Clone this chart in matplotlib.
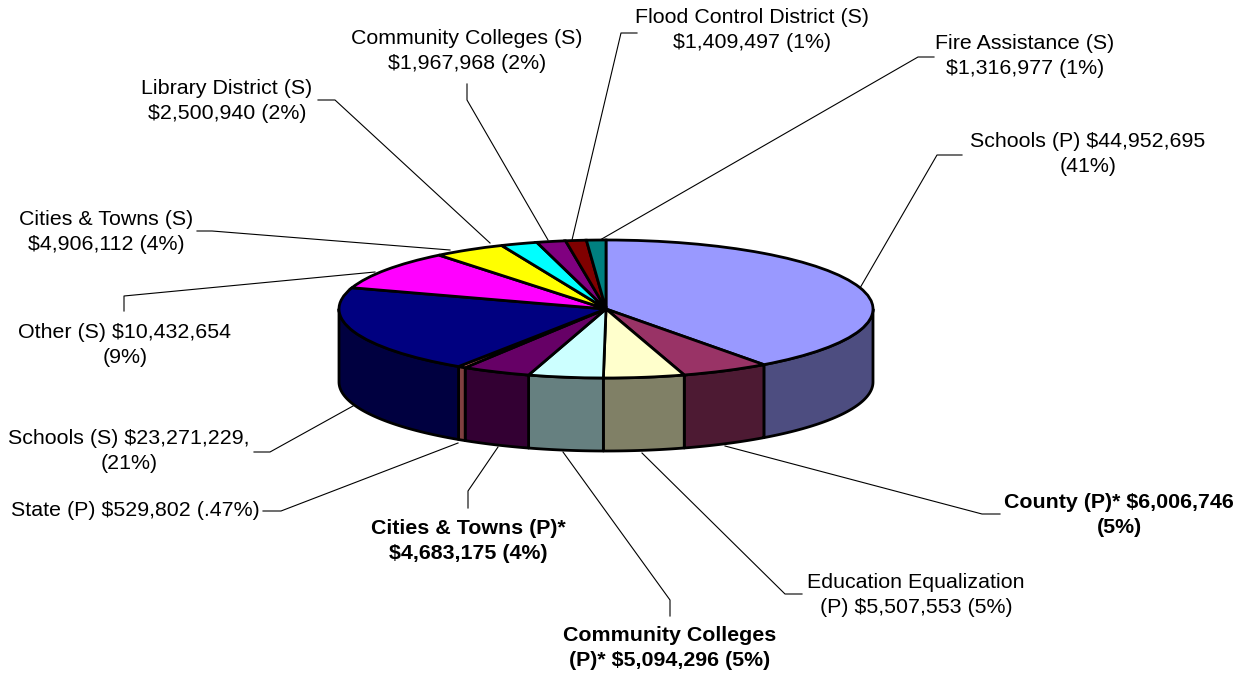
import numpy as np
import matplotlib
matplotlib.use("Agg")
import matplotlib.pyplot as plt
from matplotlib.transforms import Affine2D

plt.rcParams['font.family'] = ['Liberation Sans', 'DejaVu Sans']

# Data, clockwise from 12 o'clock
names = ["Schools (P)", "County (P)", "Education Equalization (P)", "Community Colleges (P)",
         "Cities & Towns (P)", "State (P)", "Schools (S)", "Other (S)", "Cities & Towns (S)",
         "Library District (S)", "Community Colleges (S)", "Flood Control District (S)",
         "Fire Assistance (S)"]
values = [44952695, 6006746, 5507553, 5094296, 4683175, 529802, 23271229, 10432654,
          4906112, 2500940, 1967968, 1409497, 1316977]
top_colors = ["#9999FF", "#993366", "#FFFFCC", "#CCFFFF", "#660066", "#FF8080", "#000080",
              "#FF00FF", "#FFFF00", "#00FFFF", "#800080", "#800000", "#008080"]
side_colors = ["#4D4D80", "#4D1A33", "#808066", "#668080", "#330033", "#804040", "#000040",
               "#800080", "#808000", "#008080", "#400040", "#400000", "#004040"]

# text, x, y, bold
labels = [
    ("Schools (P) $44,952,695\n(41%)", 1088, 154, False),
    ("County (P)* $6,006,746\n(5%)", 1119, 515, True),
    ("Education Equalization\n(P) $5,507,553 (5%)", 916, 595, False),
    ("Community Colleges\n(P)* $5,094,296 (5%)", 670, 648, True),
    ("Cities & Towns (P)*\n$4,683,175 (4%)", 468, 541, True),
    ("State (P) $529,802 (.47%)", 135, 511, False),
    ("Schools (S) $23,271,229,\n(21%)", 129, 451, False),
    ("Other (S) $10,432,654\n(9%)", 125, 345, False),
    ("Cities & Towns (S)\n$4,906,112 (4%)", 106, 232, False),
    ("Library District (S)\n$2,500,940 (2%)", 227, 101, False),
    ("Community Colleges (S)\n$1,967,968 (2%)", 467, 51, False),
    ("Flood Control District (S)\n$1,409,497 (1%)", 752, 30, False),
    ("Fire Assistance (S)\n$1,316,977 (1%)", 1025, 56, False),
]
leaders = [
    ([860, 937, 962], [288, 155, 155]),
    ([725, 982, 1000], [446, 514, 514]),
    ([642, 785, 802], [453, 594, 594]),
    ([563, 670, 670], [452, 600, 616]),
    ([498, 468, 468], [447, 491, 508]),
    ([458, 281, 263], [443, 511, 511]),
    ([353, 270, 254], [406, 452, 452]),
    ([375, 124, 124], [272, 296, 311]),
    ([450, 212, 197], [250, 231, 231]),
    ([490, 335, 318], [243, 100, 100]),
    ([548, 467, 467], [240, 100, 84]),
    ([572, 621, 637], [240, 33, 33]),
    ([600, 918, 934], [240, 57, 57]),
]

W, H = 1244, 675
cx, cy = 606, 309
rx, ry = 267, 69
depth = 73

fig = plt.figure(figsize=(W / 100, H / 100), dpi=100)
ax = fig.add_axes([0, 0, 1, 1])

# side wall, only the part facing the viewer
frac = np.cumsum([0] + values) / sum(values) * 2 * np.pi
for i in range(len(values)):
    a0, a1 = frac[i], frac[i + 1]
    lo, hi = max(a0, np.pi / 2), min(a1, 3 * np.pi / 2)
    if hi <= lo:
        continue
    t = np.linspace(lo, hi, 60)
    x = cx + rx * np.sin(t)
    y = (H - cy) + ry * np.cos(t)
    ax.fill(np.r_[x, x[::-1]], np.r_[y, y[::-1] - depth], fc=side_colors[i], ec="black", lw=2.0,
            zorder=2, joinstyle="round")

# top face: normal pie squashed to an ellipse
wedges, _ = ax.pie(values, colors=top_colors, startangle=90, counterclock=False,
                   wedgeprops=dict(edgecolor="black", linewidth=2.0))
squash = Affine2D().scale(rx, ry).translate(cx, H - cy) + ax.transData
for w in wedges:
    w.set_transform(squash)
    w.set_zorder(3)

ax.set_aspect("auto")
ax.set_xlim(0, W)
ax.set_ylim(0, H)
ax.axis("off")

for (lx, ly) in leaders:
    ax.plot(lx, [H - v for v in ly], color="black", lw=0.8, zorder=1)

for txt, x, y, bold in labels:
    ax.text(x, H - y, txt, ha="center", va="center", fontsize=15.4, linespacing=1.42,
            fontweight="bold" if bold else "normal", color="black", zorder=4)

fig.savefig("out.png", dpi=100)
